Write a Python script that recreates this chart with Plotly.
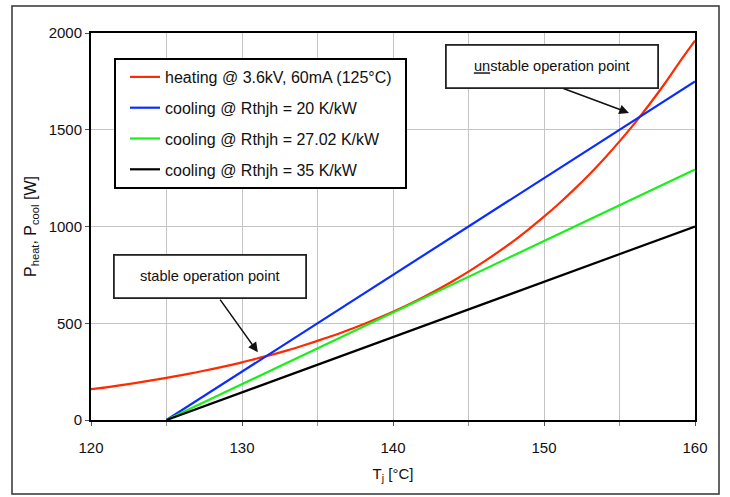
import plotly.graph_objects as go

# ---- data ----
tj_heat = list(range(120, 161))
p_heat = [159, 169, 180, 192, 205, 218, 232, 247, 263, 280,
          298, 318, 338, 360, 384, 409, 435, 464, 494, 526,
          560, 596, 635, 676, 720, 767, 817, 870, 926, 987,
          1051, 1119, 1192, 1269, 1352, 1440, 1533, 1633, 1739, 1852, 1960]

tj_cool = [125, 160]
p_cool_20 = [0, 1750]
p_cool_27 = [0, 1295]
p_cool_35 = [0, 1000]

names = ["heating @ 3.6kV, 60mA (125°C)",
         "cooling @ Rthjh = 20 K/kW",
         "cooling @ Rthjh = 27.02 K/kW",
         "cooling @ Rthjh = 35 K/kW"]
colors = ["#ff2a00", "#0a2dff", "#18f018", "#000000"]

x_ticks = [120, 130, 140, 150, 160]
y_ticks = [0, 500, 1000, 1500, 2000]

FONT = "Liberation Sans, Arial, sans-serif"

# plot-area geometry (pixels) used to convert to paper coords
L, R, T, B = 91, 695, 33, 420
def px(x):
    return (x - L) / (R - L)
def py(y):
    return (B - y) / (B - T)

fig = go.Figure()
series = [(tj_heat, p_heat), (tj_cool, p_cool_20), (tj_cool, p_cool_27), (tj_cool, p_cool_35)]
for i, ((xs, ys), nm, c) in enumerate(zip(series, names, colors)):
    fig.add_trace(go.Scatter(x=xs, y=ys, mode="lines", name=nm,
                             line=dict(color=c, width=2.2, shape="spline" if i == 0 else "linear"),
                             legendgroup=f"g{i}"))

fig.update_layout(
    width=730, height=497,
    margin=dict(l=L, r=730 - R, t=T, b=497 - B),
    paper_bgcolor="white", plot_bgcolor="white",
    font=dict(family=FONT, size=15, color="#111111"),
    showlegend=True,
    legend=dict(x=px(125), y=py(60), xanchor="left", yanchor="top",
                bgcolor="rgba(0,0,0,0)", borderwidth=0,
                font=dict(family=FONT, size=16, color="#111111"),
                tracegroupgap=7, itemwidth=30),
    xaxis=dict(range=[120, 160], tickvals=x_ticks, ticktext=[str(v) for v in x_ticks],
               showgrid=True, gridcolor="#c4c4c4", gridwidth=1,
               minor=dict(dtick=5, tick0=120, showgrid=True, gridcolor="#c4c4c4", gridwidth=1,
                          ticks="outside", ticklen=4, tickcolor="#999999"),
               ticks="outside", ticklen=4, tickcolor="#555555",
               showline=True, linecolor="#000000", linewidth=2, mirror=True,
               zeroline=False, ticklabelstandoff=9,
               tickfont=dict(size=15),
               title=dict(text="T<sub>j</sub> [°C]", font=dict(size=15), standoff=13)),
    yaxis=dict(range=[0, 2000], tickvals=y_ticks, ticktext=[str(v) for v in y_ticks],
               showgrid=True, gridcolor="#c4c4c4", gridwidth=1,
               ticks="outside", ticklen=4, tickcolor="#555555",
               showline=True, linecolor="#000000", linewidth=2, mirror=True,
               zeroline=False,
               tickfont=dict(size=15),
               title=dict(text="P<sub>heat</sub>, P<sub>cool</sub> [W]", font=dict(size=16), standoff=8)),
)

# outer frame
fig.add_shape(type="rect", xref="paper", yref="paper",
              x0=px(12), x1=px(719), y0=py(494), y1=py(6),
              line=dict(color="#333333", width=1.5), layer="below")

# legend frame
fig.add_shape(type="rect", xref="paper", yref="paper",
              x0=px(115), x1=px(406), y0=py(188), y1=py(59),
              line=dict(color="#000000", width=2), fillcolor="white", layer="above")

# annotation boxes
fig.add_annotation(xref="paper", yref="paper", x=px(209.5), y=py(276),
                   text="stable operation point", showarrow=False,
                   font=dict(family=FONT, size=14.6, color="#111111"),
                   width=190, height=41, bgcolor="white", bordercolor="#222222",
                   borderwidth=1.8, borderpad=0, xanchor="center", yanchor="middle")
fig.add_annotation(xref="paper", yref="paper", x=px(552), y=py(66.5),
                   text="<u>un</u>stable operation point", showarrow=False,
                   font=dict(family=FONT, size=14.6, color="#111111"),
                   width=210, height=41, bgcolor="white", bordercolor="#222222",
                   borderwidth=1.8, borderpad=0, xanchor="center", yanchor="middle")

# arrows
fig.add_annotation(x=131.05, y=350, ax=128.48, ay=630, xref="x", yref="y",
                   axref="x", ayref="y", text="", showarrow=True,
                   arrowhead=2, arrowsize=1.3, arrowwidth=1.5, arrowcolor="#111111")
fig.add_annotation(x=155.63, y=1587, ax=151.19, ay=1716, xref="x", yref="y",
                   axref="x", ayref="y", text="", showarrow=True,
                   arrowhead=2, arrowsize=1.3, arrowwidth=1.5, arrowcolor="#111111")

fig.write_html("out.html", config={"displayModeBar": False},
               post_script="document.body.style.margin='0';")
